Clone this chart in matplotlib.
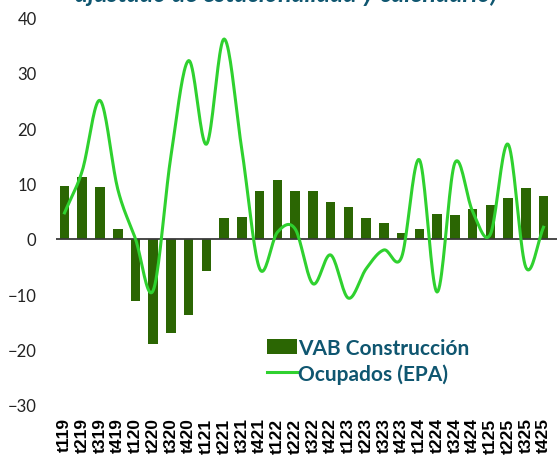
import numpy as np
import matplotlib.pyplot as plt
from matplotlib.lines import Line2D
from matplotlib.patches import Patch

# Trimestres
trimestres = ['t119', 't219', 't319', 't419', 't120', 't220', 't320', 't420',
              't121', 't221', 't321', 't421', 't122', 't222', 't322', 't422',
              't123', 't223', 't323', 't423', 't124', 't224', 't324', 't424',
              't125', 't225', 't325', 't425']

# VAB Construcción (barras)
vab = [9.5, 11.1, 9.3, 1.8, -11.2, -19.0, -17.0, -13.7,
       -5.8, 3.7, 4.0, 8.7, 10.6, 8.7, 8.6, 6.7,
       5.7, 3.7, 2.9, 1.1, 1.7, 4.5, 4.3, 5.4,
       6.1, 7.4, 9.1, 7.8]

# Ocupados EPA (linea suavizada)
ocupados = [4.7, 12.3, 25.0, 9.0, 0.0, -9.3, 15.0, 32.2,
            17.1, 36.1, 16.0, -5.4, 1.2, 1.8, -8.1, -2.9,
            -10.7, -5.4, -2.0, -3.3, 14.3, -9.6, 13.7, 5.0,
            0.8, 17.1, -5.1, 2.1]

col_barra = '#2b6603'
col_linea = '#2fd12f'
col_texto = '#0f5670'


def suavizar(y, n=20):
    # Catmull-Rom, parecido a la linea suavizada de Excel
    y = np.asarray(y, dtype=float)
    p = np.concatenate(([2 * y[0] - y[1]], y, [2 * y[-1] - y[-2]]))
    xs, ys = [], []
    t = np.linspace(0, 1, n, endpoint=False)
    for i in range(len(y) - 1):
        p0, p1, p2, p3 = p[i], p[i + 1], p[i + 2], p[i + 3]
        v = 0.5 * ((2 * p1) + (-p0 + p2) * t + (2 * p0 - 5 * p1 + 4 * p2 - p3) * t**2
                   + (-p0 + 3 * p1 - 3 * p2 + p3) * t**3)
        xs.extend(i + t)
        ys.extend(v)
    xs.append(len(y) - 1)
    ys.append(y[-1])
    return np.array(xs), np.array(ys)


fig = plt.figure(figsize=(5.57, 4.56), dpi=100)
ax = fig.add_axes([56 / 557, 1 - 406 / 456, 1 - 56 / 557, (406 - 18.4) / 456])

x = np.arange(len(trimestres))
ax.bar(x, vab, width=0.54, color=col_barra, zorder=2)
ax.axhline(0, color='#3a3a3a', lw=1.3, zorder=3)
xs, ys = suavizar(ocupados)
ax.plot(xs, ys, color=col_linea, lw=2.2, zorder=4)

ax.set_xlim(-0.48, 27.76)
ax.set_ylim(-30, 40)
ax.set_yticks(range(-30, 41, 10))
ax.set_xticks(x)
ax.set_xticklabels(trimestres, rotation=90, fontsize=12.5, fontweight='bold',
                   family='Liberation Sans', va='top')
for lab in ax.get_yticklabels():
    lab.set_fontsize(12)
    lab.set_family('Lato')
    lab.set_color('#222222')
ax.tick_params(length=0, pad=9)
ax.tick_params(axis='y', pad=14)
for s in ax.spines.values():
    s.set_visible(False)

handles = [Patch(facecolor=col_barra, edgecolor='none'),
           Line2D([0], [0], color=col_linea, lw=2.2)]
leg = ax.legend(handles, ['VAB Construcción', 'Ocupados (EPA)'],
                loc='upper left', bbox_to_anchor=(0.405, 0.195), frameon=False,
                handlelength=1.45, handleheight=0.8, handletextpad=0.05,
                labelspacing=0.25, borderaxespad=0,
                prop={'family': 'Lato', 'weight': 'bold', 'size': 15})
for t in leg.get_texts():
    t.set_color(col_texto)

fig.text(286 / 557, 1 - 2.5 / 456, 'ajustado de estacionalidad y calendario)',
         ha='center', va='baseline', fontsize=18, fontweight='bold',
         style='italic', family='Lato', color=col_texto)

fig.savefig('out.png', dpi=100)
